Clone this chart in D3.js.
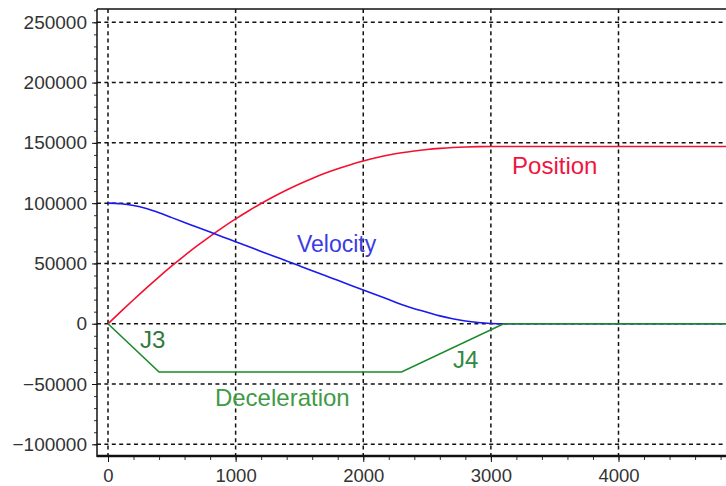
<!DOCTYPE html>
<html>
<head>
<meta charset="utf-8">
<script src="https://cdn.jsdelivr.net/npm/d3@7"></script>
<style>
  body { margin: 0; background: #fff; }
  svg { display: block; font-family: "Liberation Sans", Arial, sans-serif; }
</style>
</head>
<body>
<div id="chart"></div>
<script>
// time in ms
const times = [0, 100, 200, 300, 400, 500, 600, 700, 800, 900, 1000, 1100, 1200, 1300, 1400, 1500,
  1600, 1700, 1800, 1900, 2000, 2100, 2200, 2300, 2400, 2500, 2600, 2700, 2800, 2900, 3000, 3100, 5000];

const position = [0, 9980, 19870, 29550, 38930, 47930, 56530, 64730, 72530, 79930, 86930, 93530,
  99730, 105530, 110930, 115930, 120530, 124730, 128530, 131930, 134930, 137600, 139900, 141800,
  143300, 144500, 145400, 146100, 146600, 146900, 147000, 147000, 147000];

const velocity = [100000, 99500, 98000, 95500, 92000, 88000, 84000, 80000, 76000, 72000, 68000,
  64000, 60000, 56000, 52000, 48000, 44000, 40000, 36000, 32000, 28000, 24000, 20000, 16000,
  12500, 9500, 6500, 4200, 2300, 1000, 250, 0, 0];

const decelTimes = [0, 400, 2300, 3100, 5000];
const deceleration = [0, -40000, -40000, 0, 0];

const xTicks = [0, 1000, 2000, 3000, 4000];
const yTicks = [-100000, -50000, 0, 50000, 100000, 150000, 200000, 250000];

const labels = [
  {text: "Position", t: 3166, v: 124000, color: "#ee1540", size: 24},
  {text: "Velocity", t: 1481, v: 59500, color: "#3b3be4", size: 23},
  {text: "Deceleration", t: 838, v: -68250, color: "#3f9b45", size: 24},
  {text: "J3", t: 251, v: -20150, color: "#2f7a3c", size: 24},
  {text: "J4", t: 2703, v: -36740, color: "#2f8a40", size: 24}
];

const draw = () => {
  const width = 726;
  const height = 486;
  const left = 97, top = 9, bottom = 456;

  const x = d3.scaleLinear().domain([0, 4000]).range([108, 618.5]);
  const y = d3.scaleLinear().domain([-100000, 250000]).range([444.3, 22.3]);

  const svg = d3.select("#chart").append("svg")
      .attr("width", width)
      .attr("height", height);

  svg.append("clipPath").attr("id", "plot")
    .append("rect")
      .attr("x", left).attr("y", top)
      .attr("width", width - left).attr("height", bottom - top);

  // grid
  const grid = svg.append("g");
  grid.selectAll(".hg").data(yTicks).enter().append("line")
      .attr("x1", left).attr("x2", width)
      .attr("y1", d => y(d)).attr("y2", d => y(d));
  grid.selectAll(".vg").data(xTicks).enter().append("line")
      .attr("x1", d => x(d)).attr("x2", d => x(d))
      .attr("y1", top).attr("y2", bottom);
  grid.selectAll("line")
      .attr("stroke", "#111")
      .attr("stroke-width", 1.5)
      .attr("stroke-dasharray", "4,3.4");

  // minor ticks
  const yMinor = d3.range(-100000, 260001, 10000);
  const xMinor = d3.range(0, 4801, 200);

  svg.append("g")
      .attr("transform", `translate(${left},0)`)
      .call(d3.axisLeft(y).tickValues(yMinor).tickSize(3).tickFormat(""))
      .call(g => g.select(".domain").remove())
      .selectAll("line").attr("stroke", "#333");

  svg.append("g")
      .attr("transform", `translate(0,${bottom})`)
      .call(d3.axisBottom(x).tickValues(xMinor).tickSize(4).tickFormat(""))
      .call(g => g.select(".domain").remove())
      .selectAll("line").attr("stroke", "#333");

  // major axes
  svg.append("g")
      .attr("transform", `translate(${left},0)`)
      .call(d3.axisLeft(y).tickValues(yTicks).tickSize(5).tickPadding(5).tickFormat(d3.format("d")))
      .call(g => g.select(".domain").remove())
      .call(g => g.selectAll("line").attr("stroke", "#111"))
      .call(g => g.selectAll("text")
          .attr("font-size", 19)
          .attr("font-family", "Liberation Sans, Arial, sans-serif")
          .attr("fill", "#333"));

  svg.append("g")
      .attr("transform", `translate(0,${bottom})`)
      .call(d3.axisBottom(x).tickValues(xTicks).tickSize(6).tickPadding(7).tickFormat(d3.format("d")))
      .call(g => g.select(".domain").remove())
      .call(g => g.selectAll("line").attr("stroke", "#111"))
      .call(g => g.selectAll("text")
          .attr("font-size", 18.5)
          .attr("font-family", "Liberation Sans, Arial, sans-serif")
          .attr("fill", "#333"));

  // frame
  svg.append("line").attr("x1", left).attr("x2", width).attr("y1", top).attr("y2", top)
      .attr("stroke", "#111").attr("stroke-width", 1.5);
  svg.append("line").attr("x1", left).attr("x2", left).attr("y1", top).attr("y2", bottom + 1)
      .attr("stroke", "#111").attr("stroke-width", 1.5);
  svg.append("line").attr("x1", left).attr("x2", width).attr("y1", bottom).attr("y2", bottom)
      .attr("stroke", "#111").attr("stroke-width", 2.5);

  // series
  const plot = svg.append("g").attr("clip-path", "url(#plot)");
  const line = d3.line().x(d => x(d[0])).y(d => y(d[1]));
  const smooth = d3.line().x(d => x(d[0])).y(d => y(d[1])).curve(d3.curveMonotoneX);

  plot.append("path")
      .datum(d3.zip(times, position))
      .attr("d", smooth)
      .attr("fill", "none").attr("stroke", "#f5102f").attr("stroke-width", 1.6);

  plot.append("path")
      .datum(d3.zip(times, velocity))
      .attr("d", smooth)
      .attr("fill", "none").attr("stroke", "#1a1aee").attr("stroke-width", 1.6);

  plot.append("path")
      .datum(d3.zip(decelTimes, deceleration))
      .attr("d", line)
      .attr("fill", "none").attr("stroke", "#1a8a2a").attr("stroke-width", 1.6);

  // annotations
  svg.selectAll(".lbl").data(labels).enter().append("text")
      .attr("x", d => x(d.t))
      .attr("y", d => y(d.v))
      .attr("font-size", d => d.size)
      .attr("fill", d => d.color)
      .text(d => d.text);
};

window.onload = draw;
</script>
</body>
</html>
